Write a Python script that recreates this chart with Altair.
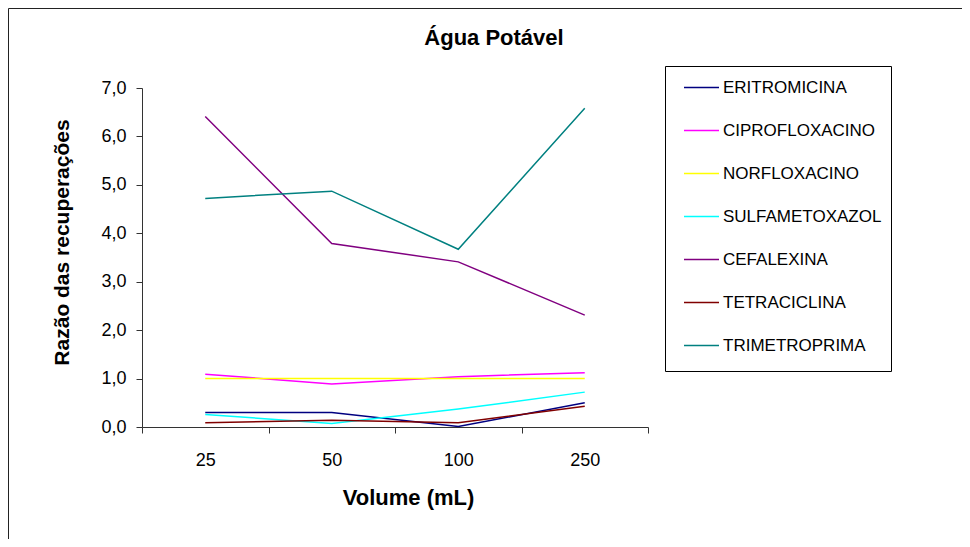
import altair as alt
import pandas as pd

volumes = ["25", "50", "100", "250"]
farmacos = ["ERITROMICINA", "CIPROFLOXACINO", "NORFLOXACINO", "SULFAMETOXAZOL",
            "CEFALEXINA", "TETRACICLINA", "TRIMETROPRIMA"]
cores = ["#000080", "#FF00FF", "#FFFF00", "#00FFFF", "#800080", "#800000", "#008080"]

eritromicina = [0.30, 0.30, 0.01, 0.50]
ciprofloxacino = [1.09, 0.89, 1.04, 1.12]
norfloxacino = [1.00, 1.00, 1.00, 1.00]
sulfametoxazol = [0.26, 0.07, 0.37, 0.72]
cefalexina = [6.41, 3.79, 3.41, 2.31]
tetraciclina = [0.09, 0.14, 0.09, 0.43]
trimetroprima = [4.72, 4.87, 3.67, 6.58]

series = [eritromicina, ciprofloxacino, norfloxacino, sulfametoxazol,
          cefalexina, tetraciclina, trimetroprima]

titulo = "Água Potável"

rows = []
for i, (nome, vals) in enumerate(zip(farmacos, series)):
    for v, r in zip(volumes, vals):
        rows.append({"Volume": v, "Razao": r, "Farmaco": nome, "ordem": i})
df = pd.DataFrame(rows)

FONT = "Liberation Sans"
one = pd.DataFrame({"k": [0]})
title_df = pd.DataFrame({"t": [titulo]})

border_left = alt.Chart(one).mark_rule(color="#222222", strokeWidth=1).encode(
    x=alt.value(-133.5), y=alt.value(-79.5), y2=alt.value(470))
border_top = alt.Chart(one).mark_rule(color="#222222", strokeWidth=1).encode(
    x=alt.value(-133.5), x2=alt.value(840), y=alt.value(-79.5))
legend_box = alt.Chart(one).mark_rect(fill="white", stroke="black", strokeWidth=1).encode(
    x=alt.value(523.5), x2=alt.value(749.5), y=alt.value(-21.5), y2=alt.value(283.5))
title_mark = alt.Chart(title_df).mark_text(
    font=FONT, fontSize=22, fontWeight="bold", color="black",
    align="center", baseline="middle").encode(
    text="t:N", x=alt.value(352), y=alt.value(-50))

lines = alt.Chart(df).mark_line(strokeWidth=1.5).encode(
    x=alt.X("Volume:N", sort=volumes, bandPosition=0.5,
            scale=alt.Scale(type="band", paddingInner=0, paddingOuter=0),
            axis=alt.Axis(title="Volume (mL)", labelAngle=0, tickBand="extent",
                          tickSize=6, labelPadding=18, labelFontSize=18, labelFont=FONT,
                          labelColor="black", domainColor="#333333", tickColor="#333333",
                          titleFont=FONT, titleFontSize=22, titleFontWeight="bold",
                          titleColor="black", titleX=266, titleY=70,
                          titleBaseline="middle", titleAlign="center", grid=False)),
    y=alt.Y("Razao:Q", scale=alt.Scale(domain=[0, 7], nice=False),
            axis=alt.Axis(title="Razão das recuperações", values=[0, 1, 2, 3, 4, 5, 6, 7],
                          labelExpr="replace(format(datum.value, '.1f'), '.', ',')",
                          tickSize=6, labelPadding=10, labelFontSize=18, labelFont=FONT,
                          labelColor="black", domainColor="#333333", tickColor="#333333",
                          titleFont=FONT, titleFontSize=21, titleFontWeight="bold",
                          titleColor="black", titleX=-80, titleY=154,
                          titleAlign="center", titleBaseline="middle", grid=False)),
    color=alt.Color("Farmaco:N", sort=farmacos,
                    scale=alt.Scale(domain=farmacos, range=cores),
                    legend=alt.Legend(title=None, orient="none", legendX=541, legendY=-19,
                                      symbolType="stroke", symbolSize=1225,
                                      symbolStrokeWidth=1.5, labelFont=FONT,
                                      labelFontSize=17, labelColor="black",
                                      labelOffset=3, rowPadding=16, padding=0,
                                      labelLimit=400)),
    order=alt.Order("ordem:Q"),
)

chart = alt.layer(border_left, border_top, legend_box, title_mark, lines).properties(
    width=506, height=339,
    padding={"left": 134, "top": 80, "right": 314, "bottom": 112},
    autosize=alt.AutoSizeParams(type="none"),
    background="white",
).configure_view(stroke=None)

chart.save("out.html", embed_options={"renderer": "svg", "actions": False})
